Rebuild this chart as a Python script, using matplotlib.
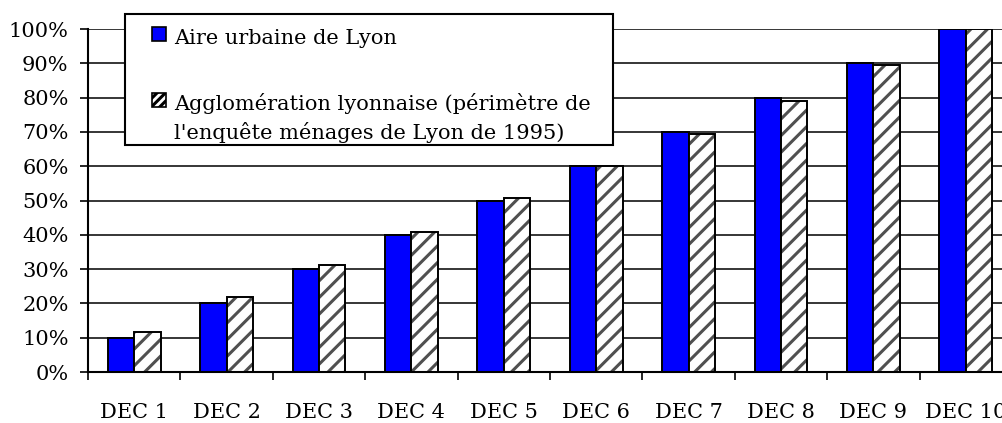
import matplotlib
matplotlib.use("Agg")
import matplotlib.pyplot as plt
import matplotlib.patches as mpatches
import numpy as np

# Data
categories = ["DEC 1", "DEC 2", "DEC 3", "DEC 4", "DEC 5",
              "DEC 6", "DEC 7", "DEC 8", "DEC 9", "DEC 10"]
aire_urbaine = [0.10, 0.20, 0.30, 0.40, 0.50, 0.60, 0.70, 0.80, 0.90, 1.00]
agglomeration = [0.117, 0.219, 0.313, 0.408, 0.506, 0.600, 0.695, 0.791, 0.895, 1.00]
yticks = [0.0, 0.1, 0.2, 0.3, 0.4, 0.5, 0.6, 0.7, 0.8, 0.9, 1.0]
label_aire = "Aire urbaine de Lyon"
label_agglo = ["Agglomération lyonnaise (périmètre de",
               "l'enquête ménages de Lyon de 1995)"]

plt.rcParams["font.family"] = ["DejaVu Serif"]
plt.rcParams["hatch.linewidth"] = 2.2
FS = 15

W, H = 1002, 423
fig = plt.figure(figsize=(W / 100, H / 100), dpi=100)
ax = fig.add_axes([88 / W, 1 - 372 / H, 924 / W, 343 / H])

def fx(px):
    return px / W

def fy(py):
    return 1 - py / H

x = np.arange(len(categories))
w = 0.285

ax.set_axisbelow(True)
ax.yaxis.grid(True, color="black", linewidth=1.1)

# blue bars
ax.bar(x - w / 2, aire_urbaine, w, color="#0000ff", edgecolor="black", linewidth=1.4)
# hatched bars: hatch in dark grey, outline in black
ax.bar(x + w / 2, agglomeration, w, color="white", edgecolor="#505050",
       hatch="//", linewidth=0)
ax.bar(x + w / 2, agglomeration, w, color="none", edgecolor="black", linewidth=1.4)

ax.set_xlim(-0.5, len(categories) - 0.5)
ax.set_ylim(0, 1.0)
ax.set_yticks(yticks)
ax.set_yticklabels([f"{int(round(v * 100))}%" for v in yticks], fontsize=FS)
ax.tick_params(axis="y", direction="out", length=6, width=1.2, pad=8)

# category labels in the middle, tick marks between categories
ax.set_xticks(x)
ax.set_xticklabels(categories, fontsize=FS)
ax.tick_params(axis="x", which="major", length=0, pad=22)
ax.set_xticks(np.arange(-0.5, len(categories), 1.0), minor=True)
ax.tick_params(axis="x", which="minor", direction="out", length=6, width=1.2)

for side in ["top", "right"]:
    ax.spines[side].set_visible(False)
ax.spines["left"].set_linewidth(1.5)
ax.spines["bottom"].set_linewidth(1.5)

# legend box drawn by hand so the hatched key sits on the first line
frame = mpatches.Rectangle((fx(125), fy(145)), fx(613) - fx(125), fy(14) - fy(145),
                           transform=fig.transFigure, facecolor="white",
                           edgecolor="black", linewidth=1.5, zorder=5)
fig.patches.append(frame)
key1 = mpatches.Rectangle((fx(152), fy(41)), fx(14), fy(27) - fy(41),
                          transform=fig.transFigure, facecolor="#0000ff",
                          edgecolor="black", linewidth=1.2, zorder=6)
key2 = mpatches.Rectangle((fx(152), fy(107)), fx(14), fy(93) - fy(107),
                          transform=fig.transFigure, facecolor="white",
                          edgecolor="black", hatch="////", linewidth=1.2, zorder=6)
fig.patches.extend([key1, key2])
fig.text(fx(174), fy(44), label_aire, fontsize=FS, va="baseline", ha="left", zorder=7)
fig.text(fx(174), fy(110), label_agglo[0], fontsize=FS, va="baseline", ha="left", zorder=7)
fig.text(fx(174), fy(139), label_agglo[1], fontsize=FS, va="baseline", ha="left", zorder=7)

fig.savefig("out.png", dpi=100)
